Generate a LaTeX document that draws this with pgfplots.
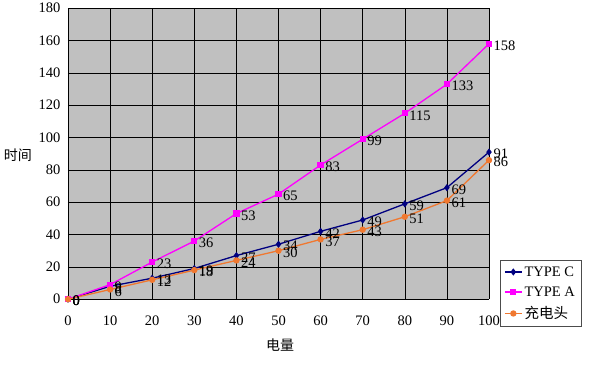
\documentclass[border=0pt]{standalone}
\usepackage{pgfplots}
\pgfplotsset{compat=1.18}
\usepackage{fontspec}
\setmainfont{Liberation Serif}
\newfontfamily\cjk{Noto Sans CJK SC}
\definecolor{bggray}{HTML}{C0C0C0}
\definecolor{tcnavy}{HTML}{000080}
\definecolor{tamag}{HTML}{FF00FF}
\definecolor{chorange}{HTML}{F07830}
\begin{document}
\begin{tikzpicture}
\begin{axis}[
  anchor=south west,
  scale only axis, width=421pt, height=291pt,
  xmin=0, xmax=100, ymin=0, ymax=180,
  xtick={0,10,...,100}, ytick={0,20,...,180},
  grid=major, major grid style={black, line width=0.6pt},
  axis background/.style={fill=bggray},
  axis x line*=bottom, axis y line*=left,
  axis line style={black, line width=0.6pt, -},
  tick style={draw=none},
  tick label style={font=\fontsize{14.5}{16}\selectfont},
  /pgf/number format/assume math mode=true,
  xticklabel style={yshift=-13pt},
  yticklabel style={xshift=-4pt},
  nodes near coords,
  every node near coord/.append style={anchor=west, font=\fontsize{14.5}{16}\selectfont, xshift=2pt, yshift=-2pt, text=black, inner sep=2pt},
  legend style={at={(1.026,0.134)}, anchor=north west, draw=black!70, fill=white,
    font=\fontsize{14.5}{16}\selectfont, row sep=5pt, inner sep=4pt},
  legend cell align=left,
  every axis legend/.append style={/tikz/every even column/.append style={column sep=2pt}},
  clip=false,
]
\addplot[tcnavy, line width=1.3pt, mark=diamond*, mark size=2.6pt, mark options={fill=tcnavy}] coordinates {
(0,0) (10,8) (20,13) (30,19) (40,27) (50,34) (60,42) (70,49) (80,59) (90,69) (100,91)};
\addlegendentry{TYPE C}
\addplot[tamag, line width=1.3pt, mark=square*, mark size=2.5pt, mark options={fill=tamag}] coordinates {
(0,0) (10,9) (20,23) (30,36) (40,53) (50,65) (60,83) (70,99) (80,115) (90,133) (100,158)};
\addlegendentry{TYPE A}
\addplot[chorange, line width=1.3pt, mark=*, mark size=2.5pt, mark options={fill=chorange}] coordinates {
(0,0) (10,6) (20,12) (30,18) (40,24) (50,30) (60,37) (70,43) (80,51) (90,61) (100,86)};
\addlegendentry{{\cjk 充电头}}
\node[font=\cjk\fontsize{14}{15}\selectfont] at (rel axis cs:-0.119,0.495) {时间};
\node[font=\cjk\fontsize{14}{15}\selectfont] at (rel axis cs:0.504,-0.158) {电量};
\end{axis}
\path (-68pt,-67pt) rectangle (532pt,299pt);
\end{tikzpicture}
\end{document}
